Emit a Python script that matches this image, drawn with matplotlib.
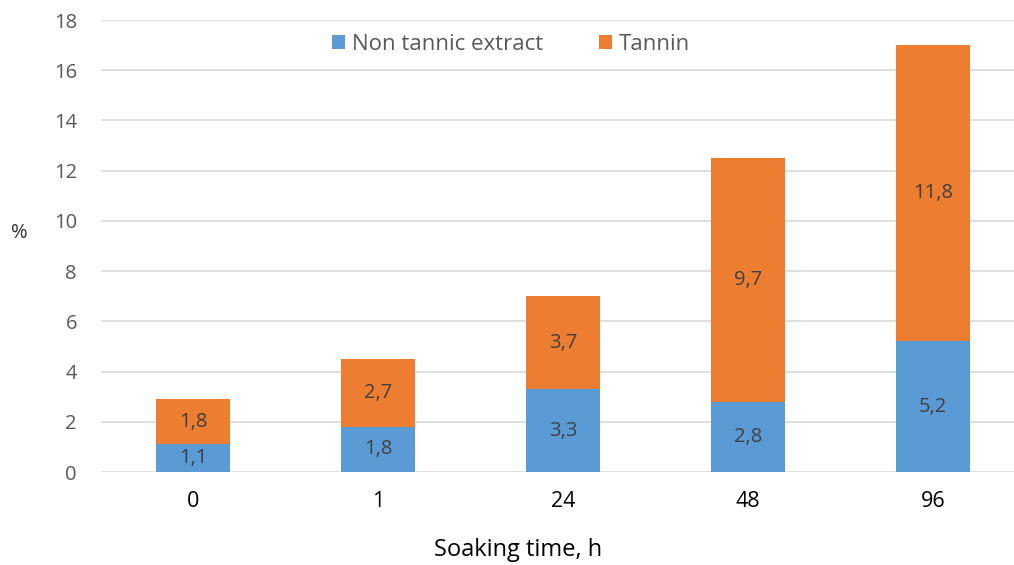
import matplotlib
matplotlib.use("Agg")
import matplotlib.pyplot as plt
import numpy as np

categories = ["0", "1", "24", "48", "96"]
non_tannic = [1.1, 1.8, 3.3, 2.8, 5.2]
tannin = [1.8, 2.7, 3.7, 9.7, 11.8]
y_ticks = [0, 2, 4, 6, 8, 10, 12, 14, 16, 18]

plt.rcParams['font.family'] = ['Open Sans', 'DejaVu Sans']

blue = "#5B9BD5"
orange = "#ED7D31"

fig = plt.figure(figsize=(10.14, 5.65), dpi=100)
ax = fig.add_axes([100.5 / 1014, 93 / 565, (1014 - 100.5) / 1014, 452 / 565])

x = np.arange(len(categories))
w = 0.395
ax.bar(x, non_tannic, w, color=blue, label="Non tannic extract", zorder=3)
ax.bar(x, tannin, w, bottom=non_tannic, color=orange, label="Tannin", zorder=3)

label_color = "#404040"
for xi, v in zip(x, non_tannic):
    ax.text(xi, v / 2, f"{v:.1f}".replace(".", ","), ha="center", va="center",
            fontsize=14.5, color=label_color, zorder=4)
for xi, b, v in zip(x, non_tannic, tannin):
    ax.text(xi, b + v / 2, f"{v:.1f}".replace(".", ","), ha="center", va="center",
            fontsize=14.5, color=label_color, zorder=4)

ax.set_ylim(0, 18)
ax.set_xlim(-0.5, -0.5 + (1014 - 100.5) / 185)
ax.set_yticks(y_ticks)
ax.set_yticklabels([str(t) for t in y_ticks], color="#595959", fontsize=14.5)
ax.set_xticks(x)
ax.set_xticklabels(categories, fontsize=15.5, color="black")
ax.tick_params(axis="both", length=0)
ax.tick_params(axis="y", pad=17)
ax.tick_params(axis="x", pad=14)
ax.yaxis.grid(True, color="#d9d9d9", linewidth=1.2, zorder=0)
ax.set_axisbelow(True)
for s in ax.spines.values():
    s.set_visible(False)

fig.text(19 / 1014, 1 - 233 / 565, "%", fontsize=14.5, color="#333333",
         ha="center", va="center")
fig.text(518 / 1014, 1 - 550 / 565, "Soaking time, h", fontsize=17,
         color="black", ha="center", va="center")

ax.legend(loc="center", bbox_to_anchor=((511 - 100.5) / (1014 - 100.5), (565 - 44 - 93) / 452),
          ncol=2, frameon=False, fontsize=16, handlelength=0.6, handleheight=0.6,
          handletextpad=0.3, columnspacing=2.5, labelcolor="#595959")

fig.savefig("out.png", dpi=100)
